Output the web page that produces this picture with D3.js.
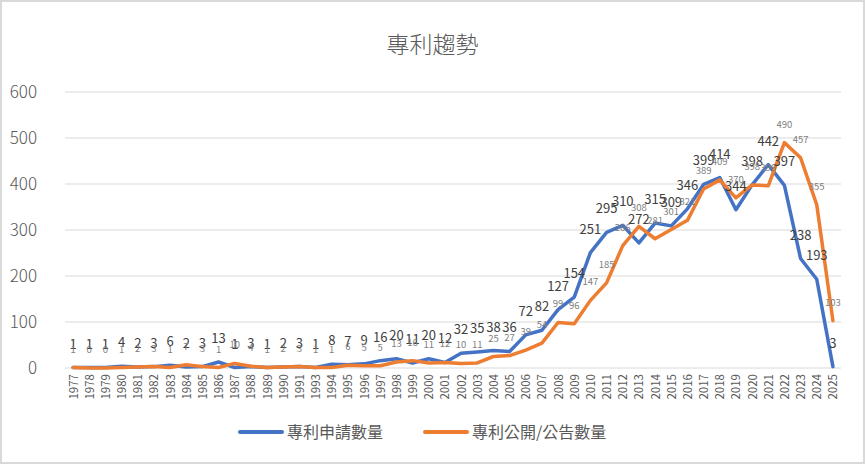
<!DOCTYPE html>
<html lang="zh-Hant">
<head>
<meta charset="utf-8">
<title>專利趨勢</title>
<script src="https://cdn.jsdelivr.net/npm/d3@7/dist/d3.min.js"></script>
<style>
  html, body { margin: 0; padding: 0; background: #fff; }
  svg { display: block; font-family: "Noto Sans CJK TC", "Noto Sans", sans-serif; }
</style>
</head>
<body>
<svg id="chart" width="865" height="464"></svg>
<script>
// 年份（1992 年不在資料中）
const years = [
  1977, 1978, 1979, 1980, 1981, 1982, 1983, 1984, 1985, 1986, 1987, 1988, 1989, 1990, 1991,
  1993, 1994, 1995, 1996, 1997, 1998, 1999, 2000, 2001, 2002, 2003, 2004, 2005, 2006, 2007,
  2008, 2009, 2010, 2011, 2012, 2013, 2014, 2015, 2016, 2017, 2018, 2019, 2020, 2021, 2022,
  2023, 2024, 2025
];

// 專利申請數量
const applied = [
  1, 1, 1, 4, 2, 3, 6, 2, 3, 13, 1, 3, 1, 2, 3,
  1, 8, 7, 9, 16, 20, 11, 20, 12, 32, 35, 38, 36, 72, 82,
  127, 154, 251, 295, 310, 272, 315, 309, 346, 399, 414, 344, 398, 442, 397,
  238, 193, 3
];

// 專利公開/公告數量
const published = [
  1, 0, 0, 1, 2, 3, 1, 7, 3, 1, 10, 4, 1, 2, 3,
  1, 1, 6, 5, 5, 13, 16, 11, 12, 10, 11, 25, 27, 39, 54,
  99, 96, 147, 185, 266, 308, 281, 301, 321, 389, 409, 370, 398, 396, 490,
  457, 355, 103
];

const yTicks = [0, 100, 200, 300, 400, 500, 600];

const seriesNames = ['專利申請數量', '專利公開/公告數量'];
const seriesColors = ['#4472C4', '#ED7D31'];

const W = 865, H = 464;
const margin = { left: 65, right: 24, top: 92, bottom: 96 };

const svg = d3.select('#chart');

// 外框
svg.append('rect')
  .attr('x', 1).attr('y', 1)
  .attr('width', W - 2).attr('height', H - 2)
  .attr('fill', '#fff')
  .attr('stroke', '#d9d9d9')
  .attr('stroke-width', 2);

// 標題
svg.append('text')
  .attr('x', W / 2)
  .attr('y', 53)
  .attr('text-anchor', 'middle')
  .attr('font-size', 23)
  .attr('font-weight', 300)
  .attr('fill', '#595959')
  .text('專利趨勢');

const x = d3.scalePoint()
  .domain(years)
  .range([margin.left, W - margin.right])
  .padding(0.5);

const y = d3.scaleLinear()
  .domain([0, 600])
  .range([H - margin.bottom, margin.top]);

// 格線
svg.append('g')
  .selectAll('line')
  .data(yTicks)
  .join('line')
  .attr('x1', margin.left)
  .attr('x2', W - margin.right)
  .attr('y1', d => y(d))
  .attr('y2', d => y(d))
  .attr('stroke', '#d9d9d9')
  .attr('stroke-width', 1);

// Y 軸
const yAxis = svg.append('g')
  .attr('transform', 'translate(37,0)')
  .call(d3.axisLeft(y).tickValues(yTicks).tickSize(0).tickPadding(0));
yAxis.select('.domain').remove();
yAxis.selectAll('text')
  .attr('font-family', '"Noto Sans CJK TC", sans-serif')
  .attr('font-size', 17)
  .attr('font-weight', 300)
  .attr('fill', '#595959');

// X 軸
const xAxis = svg.append('g')
  .attr('transform', `translate(0,${y(0)})`)
  .call(d3.axisBottom(x).tickSize(0).tickPadding(0));
xAxis.select('.domain').remove();
xAxis.selectAll('text')
  .attr('font-family', '"Noto Sans CJK TC", sans-serif')
  .attr('font-size', 11.5)
  .attr('fill', '#595959')
  .attr('text-anchor', 'end')
  .attr('dy', '0.35em')
  .attr('transform', 'translate(0,6) rotate(-90)');

const line = d3.line()
  .x((d, i) => x(years[i]))
  .y(d => y(d));

const seriesData = [applied, published];

seriesData.forEach((vals, s) => {
  svg.append('path')
    .datum(vals)
    .attr('fill', 'none')
    .attr('stroke', seriesColors[s])
    .attr('stroke-width', 3.5)
    .attr('stroke-linejoin', 'round')
    .attr('stroke-linecap', 'round')
    .attr('d', line);
});

// 資料標籤
svg.append('g')
  .selectAll('text')
  .data(applied)
  .join('text')
  .attr('x', (d, i) => x(years[i]))
  .attr('y', d => y(d) - 19)
  .attr('text-anchor', 'middle')
  .attr('font-family', '"Noto Sans CJK TC", sans-serif')
  .attr('font-size', 13)
  .attr('fill', '#404040')
  .text(d => d);

svg.append('g')
  .selectAll('text')
  .data(published)
  .join('text')
  .attr('x', (d, i) => x(years[i]))
  .attr('y', d => y(d) - 15)
  .attr('text-anchor', 'middle')
  .attr('font-family', '"Noto Sans CJK TC", sans-serif')
  .attr('font-size', 9.5)
  .attr('fill', '#808080')
  .text(d => d);

// 圖例
const legend = svg.append('g').attr('transform', 'translate(0,432)');
const legendX = [240, 425];
seriesNames.forEach((name, s) => {
  legend.append('line')
    .attr('x1', legendX[s]).attr('x2', legendX[s] + 42)
    .attr('y1', 0).attr('y2', 0)
    .attr('stroke', seriesColors[s])
    .attr('stroke-width', 4)
    .attr('stroke-linecap', 'round');
  legend.append('text')
    .attr('x', legendX[s] + 47)
    .attr('y', 0)
    .attr('dy', '0.35em')
    .attr('font-size', 16)
    .attr('fill', '#595959')
    .text(name);
});
</script>
</body>
</html>
